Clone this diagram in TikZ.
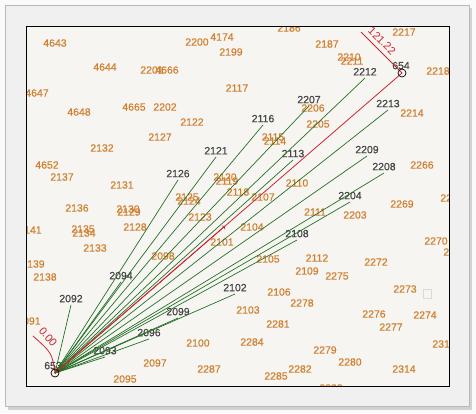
\documentclass[tikz,border=0pt]{standalone}
\usepackage{fontspec}
\setmainfont{Liberation Sans}
\newfontfamily\mapfont{Liberation Sans}[FakeBold=0.6]
\usetikzlibrary{calc,positioning}

\definecolor{ptorange}{RGB}{210,128,48}
\definecolor{ptgray}{RGB}{70,70,70}
\definecolor{raygreen}{RGB}{36,112,36}
\definecolor{chainred}{RGB}{204,36,48}
\definecolor{mapback}{RGB}{246,245,242}

\tikzset{
  pt/.style={text=ptorange, inner sep=0pt, font=\mapfont\fontsize{10.5}{12}\selectfont},
  shot/.style={text=ptgray, anchor=south, inner sep=1pt, yshift=1.5pt, font=\mapfont\fontsize{10.5}{12}\selectfont},
  ray/.style={raygreen, line width=0.7pt},
  chain/.style={chainred, line width=0.8pt},
  station/.style={draw=black, circle, inner sep=0pt, minimum size=8bp, line width=0.7pt}
}

\begin{document}
\begin{tikzpicture}[x=1bp,y=-1bp]
  \useasboundingbox (0,0) rectangle (476,413);
  \fill[gray!4] (0,0) rectangle (476,413);
  \fill[gray!35] (8,8) rectangle (472,410);
  \filldraw[fill=gray!12, draw=gray!55] (5,5) rectangle (469,406);
  \fill[mapback] (26,26) rectangle (449,386);

  \begin{scope}
    \clip (26,26) rectangle (449,386);
    \foreach \n/\x/\y in {4643/55/43, 4644/105/67, 2201/152/70, 4666/167/70,
        4647/37/93, 4648/79/112, 4665/134/107, 2202/165/107, 2200/197/42,
        4174/222/37, 2199/231/52, 2186/289/28, 2117/237/88, 2122/192/122,
        2127/160/137, 2187/327/44, 2210/349/57, 2211/352/61, 2217/404/32,
        2218/438/71, 2206/313/108, 2205/318/124, 2214/412/113, 2115/273/137,
        2114/275/141, 2110/297/183, 2132/102/148, 4652/47/165, 2137/62/177,
        2131/122/185, 2136/77/208, 2130/128/209, 2129/129/212, 2141/30/230,
        2135/83/229, 2134/84/233, 2128/135/227, 2133/95/248, 2139/33/264,
        2138/45/277, 2091/29/321, 2095/125/379, 2097/155/363, 2098/163/256,
        2100/198/343, 2287/209/369, 2103/248/310, 2106/279/292, 2278/302/303,
        2281/278/324, 2284/252/342, 2285/276/376, 2282/300/369, 2283/331/388,
        2279/325/350, 2280/350/362, 2314/404/369, 2315/444/344, 2274/425/315,
        2276/374/314, 2277/391/327, 2273/405/289, 2275/337/276, 2109/307/271,
        2112/317/258, 2272/376/262, 2270/436/241, 2271/455/252, 2268/452/198,
        2269/402/204, 2266/422/165, 2203/355/215, 2111/315/212, 2105/268/259,
        2104/252/227, 2107/263/197, 2118/238/192, 2123/200/217, 2101/222/242,
        2125/187/197, 2124/189/201, 2120/225/177, 2119/227/181}
      \node[pt] (n\n) at (\x,\y) {\n};

    \draw[gray!30] (423,289) rectangle (431,298);

    \coordinate (P653) at (55,373);
    \coordinate (P654) at (402,73);
    \node[shot, inner sep=0pt, yshift=0pt] (L653) at (53,371) {653};
    \node[shot, inner sep=0pt, yshift=0pt] (L654) at (401,71) {654};

    \foreach \n/\x/\y in {2092/71/305, 2094/121/282, 2093/105/357, 2096/149/339,
        2099/178/318, 2102/235/294, 2108/297/240, 2204/350/202, 2208/384/173,
        2209/367/156, 2213/388/110, 2212/365/78, 2207/309/106, 2113/293/160,
        2116/263/125, 2121/216/157, 2126/178/180} {
      \coordinate (P\n) at (\x,\y);
      \node[shot] (L\n) at (P\n) {\n};
    }

    \foreach \n in {2092,2094,2093,2096,2099,2102,2108,2204,2208,2209,2213,
        2212,2207,2113,2116,2121,2126}
      \draw[ray] (P653) -- (P\n);

    \draw[chain] (P653) -- (P654);
    \draw[chain, ->] (P653) -- ($(P653)!0.49!(P654)$);

    \coordinate (T0) at ($(P653)+(-22,-37)$);
    \coordinate (T1) at ($(P654)+(-41,-41)$);
    \draw[chain] (P653) .. controls ($(P653)+(-3,-20)$) .. (T0);
    \draw[chain] (P654) -- (T1);
    \node[text=chainred, font=\fontsize{11}{12}\selectfont, rotate=-50, inner sep=0pt] (C0) at (48,337) {0.00};
    \node[text=chainred, font=\fontsize{11}{12}\selectfont, rotate=-45, inner sep=0pt] (C1) at (382,41) {121.22};

    \node[station] (S653) at (P653) {};
    \node[station] (S654) at (P654) {};
  \end{scope}
  \draw[black, line width=1pt] (26,26) rectangle (449,386);
\end{tikzpicture}
\end{document}
